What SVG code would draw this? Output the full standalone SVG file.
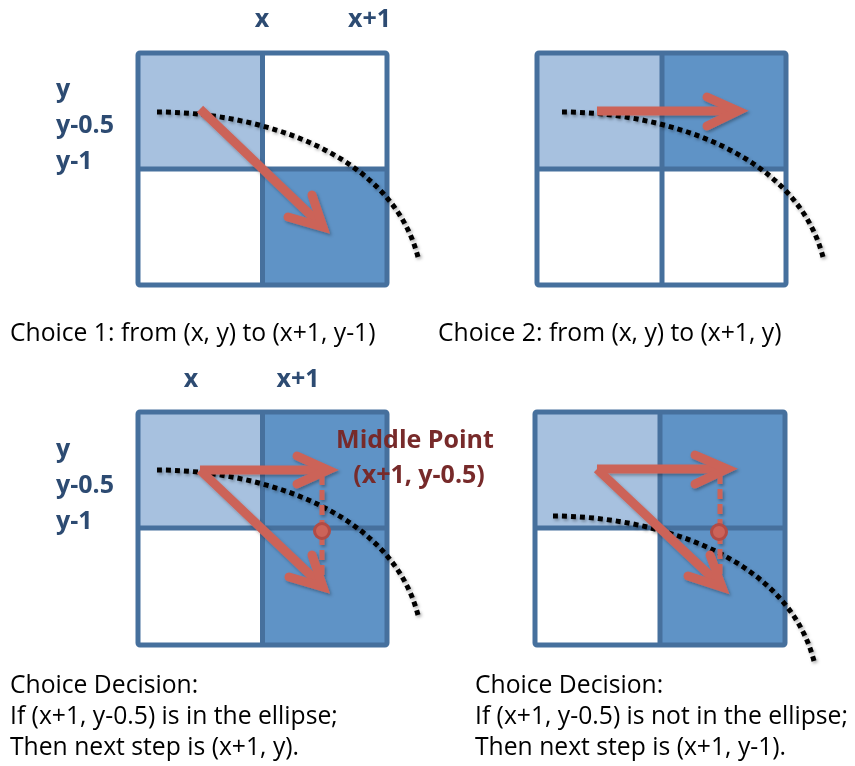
<svg xmlns="http://www.w3.org/2000/svg" width="855" height="766" viewBox="0 0 855 766">
<defs>
<style>
.frame{fill:none;stroke:#46709D;stroke-width:5;stroke-linejoin:round}
.div{stroke:#46709D;stroke-width:5}
.lt{fill:#A7C1DF}
.dk{fill:#5F93C6}
.wh{fill:#FFFFFF}
.curve{fill:none;stroke:#000;stroke-width:5;stroke-dasharray:5 4}
.shaft{fill:none;stroke:#CC6359;stroke-width:9;stroke-linecap:butt}
.head{fill:none;stroke:#CC6359;stroke-width:9;stroke-linecap:round;stroke-linejoin:miter;stroke-miterlimit:10}
.dash{fill:none;stroke:#CC6359;stroke-width:5;stroke-dasharray:10 5}
.mid{fill:#CC6359;stroke:#B24B45;stroke-width:3}
.lab{font-family:"Open Sans","DejaVu Sans",sans-serif;font-weight:bold;font-size:25px;fill:#2D4B72}
.mp{font-family:"Open Sans","DejaVu Sans",sans-serif;font-weight:bold;font-size:25px;fill:#772A2A}
.body{font-family:"Open Sans","DejaVu Sans",sans-serif;font-size:24.7px;fill:#000}
</style>
<filter id="sh" x="-20%" y="-20%" width="140%" height="140%">
<feDropShadow dx="1.5" dy="2" stdDeviation="1.5" flood-color="#000" flood-opacity="0.3"/>
</filter>
<path id="arc" d="M0,0 C98,0 233,38 261,145"/>
</defs>
<rect width="855" height="766" fill="#FFFFFF"/>

<g id="grid1">
<rect class="lt" x="138" y="53" width="124.5" height="116"/>
<rect class="wh" x="262.5" y="53" width="124.5" height="116"/>
<rect class="wh" x="138" y="169" width="124.5" height="116"/>
<rect class="dk" x="262.5" y="169" width="124.5" height="116"/>
<line class="div" x1="262.5" y1="53" x2="262.5" y2="285"/>
<line class="div" x1="138" y1="169" x2="387" y2="169"/>
<rect class="frame" x="138" y="53" width="249" height="232" rx="2"/>
</g>
<g id="grid2">
<rect class="lt" x="537" y="53" width="125" height="116"/>
<rect class="dk" x="662" y="53" width="124" height="116"/>
<rect class="wh" x="537" y="169" width="125" height="116"/>
<rect class="wh" x="662" y="169" width="124" height="116"/>
<line class="div" x1="662" y1="53" x2="662" y2="285"/>
<line class="div" x1="537" y1="169" x2="786" y2="169"/>
<rect class="frame" x="537" y="53" width="249" height="232" rx="2"/>
</g>
<g id="grid3">
<rect class="lt" x="138" y="412" width="124.5" height="116"/>
<rect class="dk" x="262.5" y="412" width="124.5" height="116"/>
<rect class="wh" x="138" y="528" width="124.5" height="117"/>
<rect class="dk" x="262.5" y="528" width="124.5" height="117"/>
<line class="div" x1="262.5" y1="412" x2="262.5" y2="645"/>
<line class="div" x1="138" y1="528" x2="387" y2="528"/>
<rect class="frame" x="138" y="412" width="249" height="233" rx="2"/>
</g>
<g id="grid4">
<rect class="lt" x="535" y="412" width="125" height="116"/>
<rect class="dk" x="660" y="412" width="125" height="116"/>
<rect class="wh" x="535" y="528" width="125" height="117"/>
<rect class="dk" x="660" y="528" width="125" height="117"/>
<line class="div" x1="660" y1="412" x2="660" y2="645"/>
<line class="div" x1="535" y1="528" x2="785" y2="528"/>
<rect class="frame" x="535" y="412" width="250" height="233" rx="2"/>
</g>

<g id="curves" filter="url(#sh)">
<use href="#arc" class="curve" transform="translate(157,112)"/>
<use href="#arc" class="curve" transform="translate(562,112)"/>
<use href="#arc" class="curve" transform="translate(157,470)"/>
<use href="#arc" class="curve" transform="translate(553,516)"/>
</g>

<g id="connectors" filter="url(#sh)">
<line class="shaft" x1="200" y1="109" x2="320" y2="224"/>
<polyline class="head" points="288,217 323,227 312,195"/>

<line class="shaft" x1="597" y1="111" x2="734" y2="111"/>
<polyline class="head" points="707,97 738,111 707,126"/>

<line class="dash" x1="322" y1="475" x2="322" y2="587"/>
<line class="shaft" x1="200" y1="470" x2="324" y2="470"/>
<polyline class="head" points="297,456 328,470 297,484"/>
<line class="shaft" x1="200" y1="470" x2="320" y2="584"/>
<polyline class="head" points="289,577 323,587 312,555"/>

<line class="dash" x1="720" y1="474" x2="720" y2="587"/>
<line class="shaft" x1="597" y1="469" x2="723" y2="469"/>
<polyline class="head" points="695,455 727,469 695,484"/>
<line class="shaft" x1="597" y1="469" x2="719" y2="584"/>
<polyline class="head" points="688,576 722,587 710,555"/>
</g>

<g id="midpoints">
<circle class="mid" cx="322" cy="531" r="7.5"/>
<circle class="mid" cx="719" cy="532" r="7.5"/>
</g>

<g id="labels">
<text class="lab" x="262" y="27" text-anchor="middle">x</text>
<text class="lab" x="369.5" y="27" text-anchor="middle">x+1</text>
<text class="lab" x="56" y="97">y</text>
<text class="lab" x="56" y="133">y-0.5</text>
<text class="lab" x="56" y="169">y-1</text>

<text class="lab" x="191" y="387" text-anchor="middle">x</text>
<text class="lab" x="298" y="387" text-anchor="middle">x+1</text>
<text class="lab" x="56" y="457">y</text>
<text class="lab" x="56" y="493">y-0.5</text>
<text class="lab" x="56" y="529">y-1</text>

<text class="mp" x="415" y="448" text-anchor="middle">Middle Point</text>
<text class="mp" x="419" y="483" text-anchor="middle">(x+1, y-0.5)</text>
</g>

<g id="captions">
<text class="body" x="10" y="341">Choice 1: from (x, y) to (x+1, y-1)</text>
<text class="body" x="438" y="341">Choice 2: from (x, y) to (x+1, y)</text>
<text class="body" x="10" y="693">Choice Decision:</text>
<text class="body" x="10" y="724">If (x+1, y-0.5) is in the ellipse;</text>
<text class="body" x="10" y="755">Then next step is (x+1, y).</text>
<text class="body" x="475" y="693">Choice Decision:</text>
<text class="body" x="475" y="724">If (x+1, y-0.5) is not in the ellipse;</text>
<text class="body" x="475" y="755">Then next step is (x+1, y-1).</text>
</g>
</svg>
